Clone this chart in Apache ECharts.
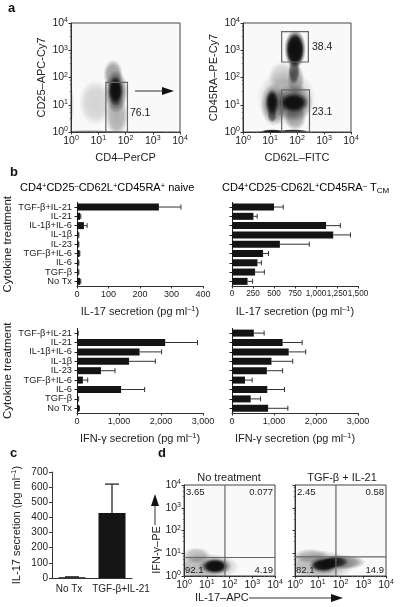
<!DOCTYPE html>
<html>
<head>
<meta charset="utf-8">
<style>html,body{margin:0;padding:0;background:#fff}#chart{width:400px;height:607px}</style>
<script src="https://cdn.jsdelivr.net/npm/echarts@6/dist/echarts.min.js"></script>
</head>
<body>
<div id="chart"></div>
<script>
// panel b
const cytokines = ['TGF-β+IL-21', 'IL-21', 'IL-1β+IL-6', 'IL-1β', 'IL-23', 'TGF-β+IL-6', 'IL-6', 'TGF-β', 'No Tx'];
const il17Naive = [260, 10, 22, 5, 5, 8, 5, 5, 10];
const il17NaiveHi = [330, 12, 32, 6, 6, 9, 6, 6, 12];
const il17Tcm = [500, 255, 1120, 1205, 570, 370, 303, 275, 185];
const il17TcmHi = [610, 300, 1290, 1410, 920, 435, 350, 385, 245];
const ifnNaive = [20, 2100, 1490, 1240, 570, 140, 1050, 30, 50];
const ifnNaiveHi = [30, 2870, 2015, 1865, 905, 255, 1610, 40, 60];
const ifnTcm = [520, 1205, 1350, 940, 830, 310, 840, 445, 860];
const ifnTcmHi = [765, 1670, 1755, 1445, 1205, 480, 1250, 680, 1330];

// panel c
const cCats = ['No Tx', 'TGF-β+IL-21'];
const cVals = [5, 430];
const cHi = [8, 620];

// density clouds of the flow plots: [x, y, spread x (decades), spread y (decades), darkness]
const cd4Cloud = [
  [8, 12, .62, .85, .16], [1, 10, .12, .7, .12], [5, 1, 1.05, .08, .28],
  [35, 130, .36, .55, .4], [48, 4, .42, .8, .32], [45, 30, .42, .8, .6],
  [43, 32, .28, .55, 1], [43, 35, .2, .4, 1]
];
const cd62Cloud = [
  [40, 18, 1.1, 1.05, .2], [30, 110, .55, .55, .18], [90, 80, .32, .65, .3], [78, 170, .22, .5, .6],
  [85, 1100, .4, .72, 1], [85, 1000, .32, .6, 1],
  [14, 10, .5, .8, .4], [12, 12, .26, .5, .9], [12, 13, .16, .34, 1], [12, 4.5, .18, .32, .55],
  [70, 12, .75, .7, .45], [75, 12, .55, .38, .95], [75, 12, .42, .26, 1], [85, 3.5, .42, .5, .35],
  [12, 1.05, .42, .08, .95], [75, 1.05, .55, .08, .95], [30, 1, 1.05, .08, .35]
];
const ctrlCloud = [
  [9, 2.6, 1.25, .5, .28], [3.6, 8, .5, .3, .25], [23, 2.7, .62, .32, .5],
  [23, 2.7, .46, .26, 1], [23, 2.7, .36, .2, 1]
];
const tgfCloud = [
  [12, 3, 1.3, .55, .28], [5, 7.5, .65, .28, .22], [110, 4, .9, .28, .45], [18, 3, .55, .32, .6],
  [18, 3, .46, .22, 1], [60, 4.2, .48, .22, .85], [30, 3.5, .38, .2, .95]
];

// gates: [x0, x1, y0, y1]
const cd4Gates = [[19, 118, 1, 66]];
const cd62Gates = [[27, 263, 370, 4800], [27, 290, 1, 35]];
const ctrlGate = [63, 6.5];
const tgfGate = [63, 6.9];
const ctrlCorners = ['3.65', '0.077', '92.1', '4.19'];
const tgfCorners = ['2.45', '0.58', '82.1', '14.9'];

const font = '"Liberation Sans", Arial, sans-serif';
const ink = '#222';
const decadePx = 27;

const chart = echarts.init(document.getElementById('chart'));

const rich = {
  b: { fontFamily: font, fontSize: 11, color: ink },
  s: { fontFamily: font, fontSize: 7.5, color: ink, verticalAlign: 'top', lineHeight: 13 }
};
const tickRich = {
  b: { fontFamily: font, fontSize: 10.5, color: ink },
  s: { fontFamily: font, fontSize: 7, color: ink, verticalAlign: 'top', lineHeight: 12 }
};

const grids = [
  { left: 71, top: 23, width: 109, height: 109 },
  { left: 243, top: 23, width: 108, height: 109 },
  { left: 77, top: 202.4, width: 126, height: 83.6 },
  { left: 232, top: 202.4, width: 126, height: 83.6 },
  { left: 77, top: 328.4, width: 126, height: 84.6 },
  { left: 232, top: 328.4, width: 126, height: 84.6 },
  { left: 52, top: 472, width: 80, height: 106 },
  { left: 184, top: 485, width: 91, height: 91 },
  { left: 295, top: 485, width: 91, height: 91 }
];
grids.slice(0, 2).concat(grids.slice(7)).forEach(g => {
  g.show = true;
  g.backgroundColor = '#f9f9f9';
  g.borderColor = '#444';
  g.borderWidth = 1;
});

const logAxis = (gridIndex, name, gap, showLabel = true) => ({
  type: 'log', logBase: 10, min: 1, max: 10000, gridIndex,
  name, nameLocation: 'middle', nameGap: gap,
  nameTextStyle: { fontFamily: font, fontSize: 11, color: ink },
  splitLine: { show: false },
  axisLine: { onZero: false, lineStyle: { color: '#333' } },
  axisTick: { length: 2.5, lineStyle: { color: '#333' } },
  minorTick: { show: true, splitNumber: 4, length: 1.2, lineStyle: { color: '#666' } },
  axisLabel: {
    show: showLabel, margin: 3, hideOverlap: false, showMinLabel: true, showMaxLabel: true,
    formatter: v => `{b|10}{s|${Math.round(Math.log10(v))}}`, rich: tickRich
  }
});

const barX = (gridIndex, max, interval, name, fontSize = 9) => ({
  type: 'value', gridIndex, min: 0, max, interval,
  name, nameLocation: 'middle', nameGap: 19,
  nameTextStyle: { fontFamily: font, fontSize: 11, color: ink, rich },
  splitLine: { show: false },
  axisLine: { show: true, onZero: false, lineStyle: { color: '#333' } },
  axisTick: { show: true, length: 2.5, lineStyle: { color: '#333' } },
  axisLabel: {
    margin: 4, fontFamily: font, fontSize, color: ink, hideOverlap: false,
    showMinLabel: true, showMaxLabel: true,
    formatter: v => v.toLocaleString('en-US')
  }
});

const barY = (gridIndex, withLabels) => ({
  type: 'category', gridIndex, data: cytokines, inverse: true,
  name: withLabels ? 'Cytokine treatment' : '', nameLocation: 'middle', nameGap: 63,
  nameTextStyle: { fontFamily: font, fontSize: 11.5, color: ink },
  axisLine: { show: true, lineStyle: { color: '#222' } },
  axisTick: { show: true, alignWithLabel: true, length: 2.5, lineStyle: { color: '#222' } },
  axisLabel: {
    show: withLabels, interval: 0, margin: 5, fontFamily: font, fontSize: 9.3, color: ink, hideOverlap: false
  }
});

const ylog = (i, name, labels = true) => logAxis(i, name, 24, labels);

const xAxis = [
  logAxis(0, 'CD4–PerCP', 20),
  logAxis(1, 'CD62L–FITC', 20),
  barX(2, 400, 100, '{b|IL-17 secretion (pg ml}{s|–1}{b|)}'),
  barX(3, 1500, 250, '{b|IL-17 secretion (pg ml}{s|–1}{b|)}', 8.2),
  barX(4, 3000, 1000, '{b|IFN-γ secretion (pg ml}{s|–1}{b|)}'),
  barX(5, 3000, 1000, '{b|IFN-γ secretion (pg ml}{s|–1}{b|)}'),
  {
    type: 'category', gridIndex: 6,
    data: [
      { value: cCats[0], textStyle: { padding: [0, 6, 0, 0] } },
      { value: cCats[1], textStyle: { padding: [0, 0, 0, 18] } }
    ],
    axisLine: { lineStyle: { color: '#333' } }, axisTick: { show: false },
    axisLabel: { interval: 0, margin: 6, fontFamily: font, fontSize: 10, color: ink, hideOverlap: false }
  },
  logAxis(7, '', 0),
  logAxis(8, '', 0)
];
const yAxis = [
  ylog(0, 'CD25–APC-Cy7'),
  ylog(1, 'CD45RA–PE-Cy7'),
  barY(2, true), barY(3, false), barY(4, true), barY(5, false),
  {
    type: 'value', gridIndex: 6, min: 0, max: 700, interval: 100,
    name: '{b|IL-17 secretion (pg ml}{s|–1}{b|)}', nameLocation: 'middle', nameGap: 29,
    nameTextStyle: { fontFamily: font, fontSize: 11, color: ink, rich },
    splitLine: { show: false },
    axisLine: { show: true, lineStyle: { color: '#333' } },
    axisTick: { show: true, length: 3, lineStyle: { color: '#333' } },
    axisLabel: { margin: 4, fontFamily: font, fontSize: 10, color: ink }
  },
  ylog(7, ''),
  ylog(8, '', false)
];

// soft round blob, stretched per decade on each axis
const cloudItem = (params, api) => {
  const p = api.coord([api.value(0), api.value(1)]);
  const w = api.value(4);
  return {
    type: 'circle', x: p[0], y: p[1],
    scaleX: api.value(2) * decadePx, scaleY: api.value(3) * decadePx,
    shape: { cx: 0, cy: 0, r: 1 },
    style: {
      fill: {
        type: 'radial', x: .5, y: .5, r: .5,
        colorStops: [
          { offset: 0, color: `rgba(15,15,15,${w})` },
          { offset: .6, color: `rgba(15,15,15,${w * .85})` },
          { offset: 1, color: 'rgba(15,15,15,0)' }
        ]
      }
    }
  };
};
const cloud = (i, data) => ({
  type: 'custom', xAxisIndex: i, yAxisIndex: i, data, clip: true, silent: true,
  encode: { x: 0, y: 1 }, renderItem: cloudItem
});

const gateLine = { stroke: '#666', lineWidth: 1.2, fill: null };
const rectGates = (i, data) => ({
  type: 'custom', xAxisIndex: i, yAxisIndex: i, data, silent: true, z: 5,
  encode: { x: [0, 1], y: [2, 3] },
  renderItem: (params, api) => {
    const a = api.coord([api.value(0), api.value(2)]);
    const b = api.coord([api.value(1), api.value(3)]);
    return { type: 'rect', shape: { x: a[0], y: b[1], width: b[0] - a[0], height: a[1] - b[1] }, style: gateLine };
  }
});
const crossGate = (i, gate) => ({
  type: 'custom', xAxisIndex: i, yAxisIndex: i, data: [gate], silent: true, z: 5,
  encode: { x: 0, y: 1 },
  renderItem: (params, api) => {
    const p = api.coord([api.value(0), api.value(1)]);
    const r = params.coordSys;
    return {
      type: 'group',
      children: [
        { type: 'line', shape: { x1: p[0], y1: r.y, x2: p[0], y2: r.y + r.height }, style: gateLine },
        { type: 'line', shape: { x1: r.x, y1: p[1], x2: r.x + r.width, y2: p[1] }, style: gateLine }
      ]
    };
  }
});

const bars = (i, vals, hi, barWidth, errColor, errWidth, capHalf) => [
  {
    type: 'bar', xAxisIndex: i, yAxisIndex: i, data: vals, barWidth, silent: true,
    itemStyle: { color: '#141414' }
  },
  {
    type: 'custom', xAxisIndex: i, yAxisIndex: i, data: hi.map((h, k) => [h, k, vals[k]]), silent: true, z: 1,
    encode: { x: 0, y: 1 },
    renderItem: (params, api) => {
      const a = api.coord([api.value(2), api.value(1)]);
      const b = api.coord([api.value(0), api.value(1)]);
      const style = { stroke: errColor, lineWidth: errWidth };
      return {
        type: 'group',
        children: [
          { type: 'line', shape: { x1: a[0], y1: a[1], x2: b[0], y2: b[1] }, style },
          { type: 'line', shape: { x1: b[0], y1: b[1] - capHalf, x2: b[0], y2: b[1] + capHalf }, style }
        ]
      };
    }
  }
];

const cErr = {
  type: 'custom', xAxisIndex: 6, yAxisIndex: 6, data: cHi.map((h, k) => [k, h, cVals[k]]), silent: true, z: 1,
  encode: { x: 0, y: 1 },
  renderItem: (params, api) => {
    const a = api.coord([api.value(0), api.value(2)]);
    const b = api.coord([api.value(0), api.value(1)]);
    const style = { stroke: '#444', lineWidth: 1.5 };
    return {
      type: 'group',
      children: [
        { type: 'line', shape: { x1: a[0], y1: a[1], x2: b[0], y2: b[1] }, style },
        { type: 'line', shape: { x1: b[0] - 7, y1: b[1], x2: b[0] + 7, y2: b[1] }, style }
      ]
    };
  }
};

const txt = (x, y, text, size = 10, extra = {}) => ({
  type: 'text', x, y, silent: true,
  style: { text, fontFamily: font, fontSize: size, fill: ink, ...extra }
});
const letter = (x, y, text) => txt(x, y, text, 13, { fontWeight: 'bold', fill: '#111', verticalAlign: 'middle' });
const arrow = (x1, y1, x2, y2, points) => [
  { type: 'line', silent: true, shape: { x1, y1, x2, y2 }, style: { stroke: '#333', lineWidth: 1 } },
  { type: 'polygon', silent: true, shape: { points }, style: { fill: '#111' } }
];

const corners = (x, vals) => [
  txt(x + 2, 492, vals[0], 9.5, { verticalAlign: 'middle' }),
  txt(x + 89, 492, vals[1], 9.5, { verticalAlign: 'middle', align: 'right' }),
  txt(x + 1, 570, vals[2], 9.5, { verticalAlign: 'middle' }),
  txt(x + 89, 570, vals[3], 9.5, { verticalAlign: 'middle', align: 'right' })
];

const titleText = (x, y, parts) => ({
  type: 'text', x, y, silent: true,
  style: { text: parts, rich: { ...rich, t: { fontFamily: font, fontSize: 8, color: ink, verticalAlign: 'bottom', lineHeight: 13 } }, verticalAlign: 'middle' }
});

const graphic = [
  letter(8, 8, 'a'), letter(10, 172, 'b'), letter(10, 453, 'c'), letter(158, 453, 'd'),
  txt(130, 113, '76.1', 10.5, { verticalAlign: 'middle' }),
  txt(312, 47, '38.4', 10.5, { verticalAlign: 'middle' }),
  txt(312, 112, '23.1', 10.5, { verticalAlign: 'middle' }),
  ...arrow(135, 91, 164, 91, [[162, 87], [174, 91], [162, 95]]),
  titleText(20, 188, '{b|CD4}{s|+}{b|CD25}{s|–}{b|CD62L}{s|+}{b|CD45RA}{s|+}{b| naive}'),
  titleText(222, 188, '{b|CD4}{s|+}{b|CD25}{s|–}{b|CD62L}{s|+}{b|CD45RA}{s|–}{b| T}{t|CM}'),
  txt(229, 478, 'No treatment', 11, { align: 'center', verticalAlign: 'middle' }),
  txt(342, 478, 'TGF-β + IL-21', 11, { align: 'center', verticalAlign: 'middle' }),
  ...corners(184, ctrlCorners),
  ...corners(295, tgfCorners),
  {
    type: 'text', x: 157, y: 550, rotation: Math.PI / 2, silent: true,
    style: { text: 'IFN-γ–PE', fontFamily: font, fontSize: 11, fill: ink, align: 'center', verticalAlign: 'middle' }
  },
  ...arrow(155, 525, 155, 505, [[151, 506], [155, 494], [159, 506]]),
  txt(195, 598, 'IL-17–APC', 11, { verticalAlign: 'middle' }),
  ...arrow(249, 598, 332, 598, [[331, 594], [343, 598], [331, 602]])
];

chart.setOption({
  animation: false,
  grid: grids,
  xAxis,
  yAxis,
  graphic,
  series: [
    cloud(0, cd4Cloud), rectGates(0, cd4Gates),
    cloud(1, cd62Cloud), rectGates(1, cd62Gates),
    ...bars(2, il17Naive, il17NaiveHi, 7, '#333', 1, 2.5),
    ...bars(3, il17Tcm, il17TcmHi, 7, '#333', 1, 2.5),
    ...bars(4, ifnNaive, ifnNaiveHi, 7, '#333', 1, 2.5),
    ...bars(5, ifnTcm, ifnTcmHi, 7, '#333', 1, 2.5),
    { type: 'bar', xAxisIndex: 6, yAxisIndex: 6, data: cVals, barWidth: 27, silent: true, itemStyle: { color: '#141414' } },
    cErr,
    cloud(7, ctrlCloud), crossGate(7, ctrlGate),
    cloud(8, tgfCloud), crossGate(8, tgfGate)
  ]
});
</script>
</body>
</html>
